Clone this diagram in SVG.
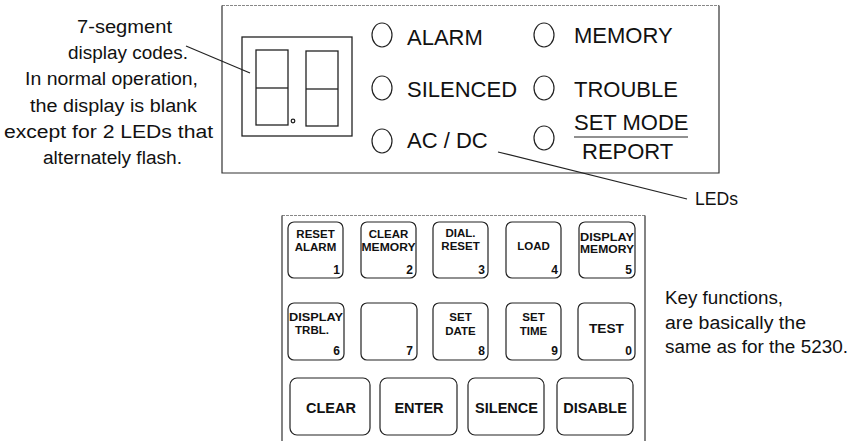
<svg xmlns="http://www.w3.org/2000/svg" width="865" height="441" viewBox="0 0 865 441">
<style>
.bg{fill:#fff}
.frame{fill:none;stroke:#333;stroke-width:1.2}
.frame-top{fill:none;stroke:#888;stroke-width:1;stroke-dasharray:3 1}
.seg{fill:none;stroke:#222;stroke-width:1.3}
.led{fill:#fff;stroke:#222;stroke-width:1.2}
.lbl{font-family:"Liberation Sans",Arial,sans-serif;font-size:22px;fill:#111}
.hand{font-family:"Liberation Sans",Arial,sans-serif;font-size:18px;fill:#111}
.key{fill:#fff;stroke:#222;stroke-width:1.2}
.kt{font-family:"Liberation Sans",Arial,sans-serif;font-weight:bold;font-size:11.5px;fill:#111;text-anchor:middle}
.kn{font-family:"Liberation Sans",Arial,sans-serif;font-weight:bold;font-size:12px;fill:#111;text-anchor:end}
.kb{font-family:"Liberation Sans",Arial,sans-serif;font-weight:bold;font-size:14.5px;fill:#111;text-anchor:middle}
.lead{fill:none;stroke:#222;stroke-width:1.2}
</style>
<rect class="bg" x="0" y="0" width="865" height="441"/>

<g id="panel">
  <line class="frame-top" x1="222" y1="5.5" x2="719" y2="5.5"/>
  <polyline class="frame" points="222,5.5 222,173 719,173 719,5.5"/>
</g>

<g id="display">
  <rect class="seg" x="242" y="37" width="110" height="99"/>
  <rect class="seg" x="256" y="50" width="32" height="75"/>
  <line class="seg" x1="256" y1="88" x2="288" y2="88"/>
  <rect class="seg" x="306" y="51" width="32" height="75"/>
  <line class="seg" x1="306" y1="89" x2="338" y2="89"/>
  <circle class="seg" cx="293" cy="121" r="1.8" stroke-width="1"/>
</g>

<g id="led-alarm"><ellipse class="led" cx="382" cy="35" rx="10" ry="12"/><text class="lbl" x="407" y="45">ALARM</text></g>
<g id="led-silenced"><ellipse class="led" cx="382" cy="88" rx="10" ry="12"/><text class="lbl" x="407" y="97">SILENCED</text></g>
<g id="led-acdc"><ellipse class="led" cx="382" cy="141" rx="10" ry="12"/><text class="lbl" x="407" y="148">AC / DC</text></g>
<g id="led-memory"><ellipse class="led" cx="544" cy="35" rx="10" ry="12"/><text class="lbl" x="574" y="43">MEMORY</text></g>
<g id="led-trouble"><ellipse class="led" cx="544" cy="88" rx="10" ry="12"/><text class="lbl" x="574" y="97">TROUBLE</text></g>
<g id="led-setmode"><ellipse class="led" cx="544" cy="138" rx="10" ry="12"/><text class="lbl" x="574" y="130">SET MODE</text><line class="lead" x1="574" y1="137" x2="688" y2="137"/><text class="lbl" x="582" y="159">REPORT</text></g>

<g id="note-display">
  <text class="hand" x="124.5" y="33" text-anchor="middle" textLength="95" lengthAdjust="spacingAndGlyphs">7-segment</text>
  <text class="hand" x="128" y="59" text-anchor="middle" textLength="120" lengthAdjust="spacingAndGlyphs">display codes.</text>
  <text class="hand" x="111.5" y="85" text-anchor="middle" textLength="173" lengthAdjust="spacingAndGlyphs">In normal operation,</text>
  <text class="hand" x="113.5" y="112" text-anchor="middle" textLength="167" lengthAdjust="spacingAndGlyphs">the display is blank</text>
  <text class="hand" x="108.5" y="138" text-anchor="middle" textLength="209" lengthAdjust="spacingAndGlyphs">except for 2 LEDs that</text>
  <text class="hand" x="112.5" y="164" text-anchor="middle" textLength="139" lengthAdjust="spacingAndGlyphs">alternately flash.</text>
</g>

<g id="note-leds">
  <text class="hand" x="695" y="205" textLength="43" lengthAdjust="spacingAndGlyphs">LEDs</text>
</g>

<g id="note-keys">
  <text class="hand" x="665" y="304" textLength="118" lengthAdjust="spacingAndGlyphs">Key functions,</text>
  <text class="hand" x="665" y="329" textLength="141" lengthAdjust="spacingAndGlyphs">are basically the</text>
  <text class="hand" x="665" y="353" textLength="183" lengthAdjust="spacingAndGlyphs">same as for the 5230.</text>
</g>

<g id="connectors">
  <line class="lead" x1="186" y1="46" x2="250" y2="73"/>
  <line class="lead" x1="498" y1="152" x2="687" y2="199"/>
</g>

<g id="keypad">
  <line class="frame-top" x1="282" y1="215.5" x2="645" y2="215.5"/>
  <polyline class="frame" points="282,215.5 282,445 645,445 645,215.5"/>
</g>

<g id="key-1"><rect class="key" x="288" y="222" width="55" height="56" rx="6"/><text class="kt" x="315.5" y="238">RESET</text><text class="kt" x="315.5" y="251">ALARM</text><text class="kn" x="340" y="274">1</text></g>
<g id="key-2"><rect class="key" x="361" y="222" width="55" height="56" rx="6"/><text class="kt" x="388.5" y="238">CLEAR</text><text class="kt" x="388.5" y="251" textLength="54" lengthAdjust="spacingAndGlyphs">MEMORY</text><text class="kn" x="413" y="274">2</text></g>
<g id="key-3"><rect class="key" x="433" y="222" width="55" height="56" rx="6"/><text class="kt" x="460.5" y="237">DIAL.</text><text class="kt" x="460.5" y="250">RESET</text><text class="kn" x="485" y="274">3</text></g>
<g id="key-4"><rect class="key" x="506" y="222" width="55" height="56" rx="6"/><text class="kt" x="533.5" y="250">LOAD</text><text class="kn" x="558" y="274">4</text></g>
<g id="key-5"><rect class="key" x="579" y="222" width="56" height="56" rx="6"/><text class="kt" x="607" y="241" textLength="54" lengthAdjust="spacingAndGlyphs">DISPLAY</text><text class="kt" x="607" y="253" textLength="54" lengthAdjust="spacingAndGlyphs">MEMORY</text><text class="kn" x="632" y="274">5</text></g>

<g id="key-6"><rect class="key" x="288" y="303" width="56" height="57" rx="6"/><text class="kt" x="316" y="321" textLength="54" lengthAdjust="spacingAndGlyphs">DISPLAY</text><text class="kt" x="312" y="334">TRBL.</text><text class="kn" x="340" y="355">6</text></g>
<g id="key-7"><rect class="key" x="361" y="303" width="56" height="57" rx="6"/><text class="kn" x="413" y="355">7</text></g>
<g id="key-8"><rect class="key" x="433" y="303" width="55" height="57" rx="6"/><text class="kt" x="460.5" y="321">SET</text><text class="kt" x="460.5" y="335">DATE</text><text class="kn" x="485" y="355">8</text></g>
<g id="key-9"><rect class="key" x="506" y="303" width="55" height="57" rx="6"/><text class="kt" x="533.5" y="321">SET</text><text class="kt" x="533.5" y="335">TIME</text><text class="kn" x="558" y="355">9</text></g>
<g id="key-0"><rect class="key" x="578" y="303" width="57" height="57" rx="6"/><text class="kt" x="606.5" y="333" style="font-size:13.7px">TEST</text><text class="kn" x="632" y="355">0</text></g>

<g id="key-clear"><rect class="key" x="290" y="378" width="80" height="57" rx="7"/><text class="kb" x="331" y="413">CLEAR</text></g>
<g id="key-enter"><rect class="key" x="380" y="378" width="77" height="57" rx="7"/><text class="kb" x="419" y="413">ENTER</text></g>
<g id="key-silence"><rect class="key" x="468" y="378" width="76" height="57" rx="7"/><text class="kb" x="506.5" y="413">SILENCE</text></g>
<g id="key-disable"><rect class="key" x="557" y="378" width="76" height="57" rx="7"/><text class="kb" x="595" y="413">DISABLE</text></g>
</svg>
